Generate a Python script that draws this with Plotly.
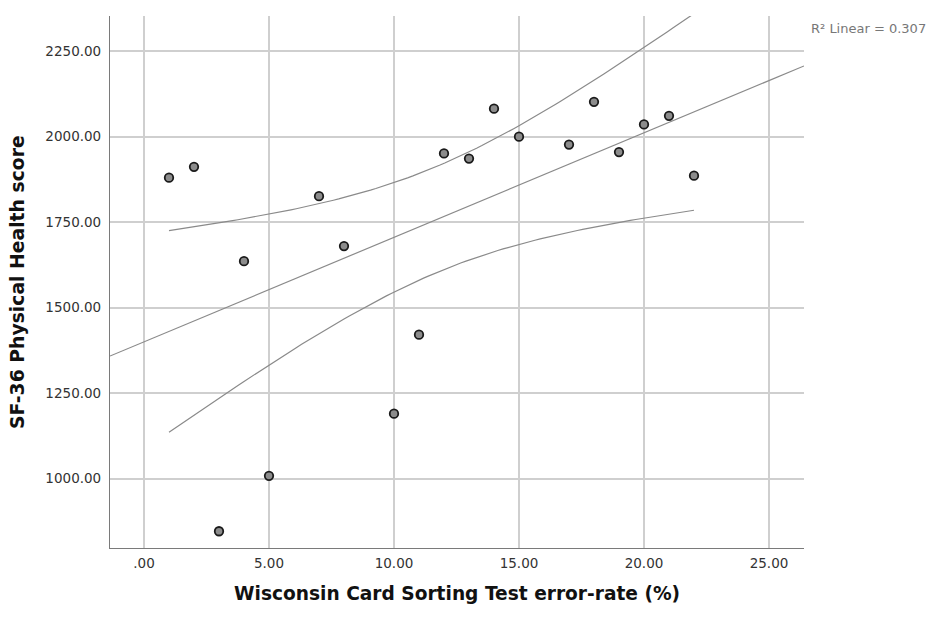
import numpy as np
import plotly.graph_objects as go

# Data
wcst_error = [1, 2, 3, 4, 5, 7, 8, 10, 11, 12, 13, 14, 15, 17, 18, 19, 20, 21, 22]
sf36_phys = [1880, 1912, 846, 1636, 1008, 1826, 1680, 1190, 1421, 1951, 1936, 2082,
             2000, 1977, 2102, 1955, 2036, 2061, 1886]

x_tickvals = [0, 5, 10, 15, 20, 25]
x_ticktext = [".00", "5.00", "10.00", "15.00", "20.00", "25.00"]
y_tickvals = [1000, 1250, 1500, 1750, 2000, 2250]
y_ticktext = ["1000.00", "1250.00", "1500.00", "1750.00", "2000.00", "2250.00"]

x_range = [-1.36, 26.4]
y_range = [797, 2353]
T_CRIT = 2.110  # t(0.975, df=17)

x = np.array(wcst_error, dtype=float)
y = np.array(sf36_phys, dtype=float)
n = len(x)
slope, intercept = np.polyfit(x, y, 1)
resid = y - (slope * x + intercept)
s = np.sqrt(np.sum(resid ** 2) / (n - 2))
sxx = np.sum((x - x.mean()) ** 2)

xl = np.linspace(x_range[0], x_range[1], 50)
yl = slope * xl + intercept
xc = np.linspace(x.min(), x.max(), 100)
yc = slope * xc + intercept
half = T_CRIT * s * np.sqrt(1.0 / n + (xc - x.mean()) ** 2 / sxx)

line_style = dict(color="#8a8a8a", width=1.2)
fig = go.Figure()
fig.add_trace(go.Scatter(x=xl, y=yl, mode="lines", line=line_style, hoverinfo="skip"))
fig.add_trace(go.Scatter(x=xc, y=yc + half, mode="lines", line=line_style, hoverinfo="skip"))
fig.add_trace(go.Scatter(x=xc, y=yc - half, mode="lines", line=line_style, hoverinfo="skip"))
fig.add_trace(go.Scatter(
    x=wcst_error, y=sf36_phys, mode="markers",
    marker=dict(size=8.5, color="#8c8c8c", line=dict(color="#1a1a1a", width=1.8)),
))

tickfont = dict(family="DejaVu Sans", size=13.5, color="#333333")
fig.update_layout(
    width=920, height=605,
    margin=dict(l=102, r=124, t=8, b=65),
    paper_bgcolor="white", plot_bgcolor="white",
    showlegend=False,
    xaxis=dict(range=x_range, tickvals=x_tickvals, ticktext=x_ticktext,
               showgrid=True, gridcolor="#cfcfcf", gridwidth=1.5,
               showline=True, linecolor="#7a7a7a", linewidth=1.2,
               zeroline=False, ticks="", tickfont=tickfont, ticklabelstandoff=3),
    yaxis=dict(range=y_range, tickvals=y_tickvals, ticktext=y_ticktext,
               showgrid=True, gridcolor="#cfcfcf", gridwidth=1.5,
               showline=True, linecolor="#7a7a7a", linewidth=1.2,
               zeroline=False, ticks="", tickfont=tickfont, ticklabelstandoff=5),
    annotations=[
        dict(text="<b>Wisconsin Card Sorting Test error-rate (%)</b>", xref="paper", yref="paper",
             x=0.5, y=0, yanchor="middle", yshift=-45, showarrow=False,
             font=dict(family="DejaVu Sans", size=18.6, color="#111111")),
        dict(text="<b>SF-36 Physical Health score</b>", xref="paper", yref="paper",
             x=0, y=0.5, xanchor="center", xshift=-93, textangle=-90, showarrow=False,
             font=dict(family="DejaVu Sans", size=18.8, color="#111111")),
        dict(text="R² Linear = 0.307", xref="paper", yref="paper",
             x=1, y=1, xanchor="left", yanchor="middle", xshift=5, yshift=-12,
             showarrow=False, font=dict(family="DejaVu Sans", size=13, color="#777777")),
    ],
)

fig.write_html("out.html")
